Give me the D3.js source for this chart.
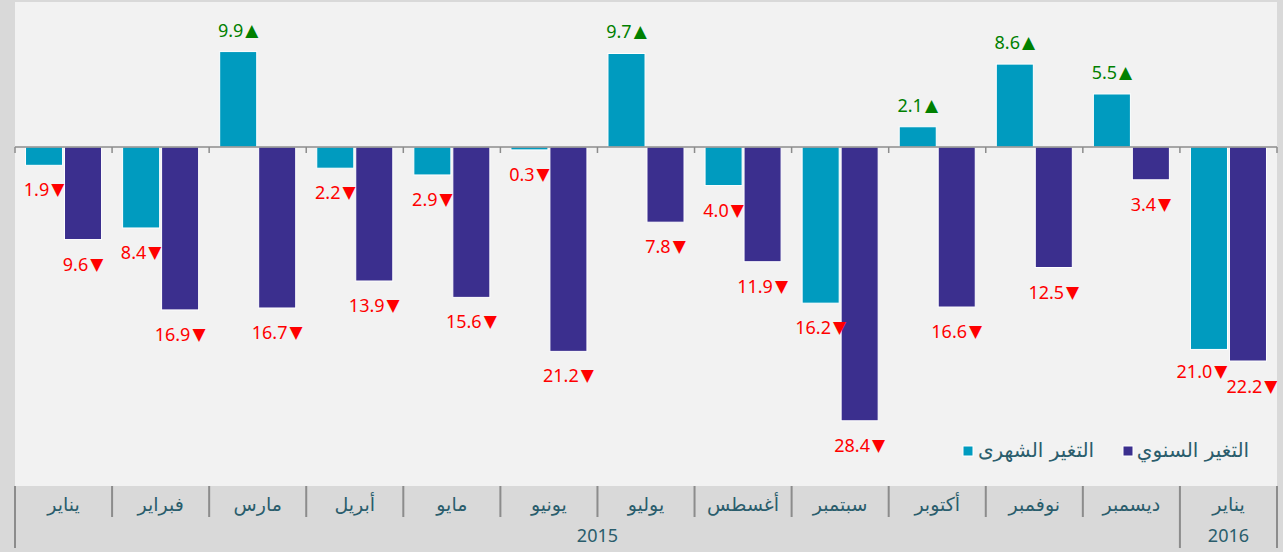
<!DOCTYPE html>
<html>
<head>
<meta charset="utf-8">
<script src="https://cdn.jsdelivr.net/npm/d3@7/dist/d3.min.js"></script>
<style>
  html, body { margin: 0; padding: 0; background: #d9d9d9; }
  svg { display: block; }
</style>
</head>
<body>
<div id="chart"></div>
<script>
// ---- Data ----
const categories = ["يناير","فبراير","مارس","أبريل","مايو","يونيو","يوليو","أغسطس","سبتمبر","أكتوبر","نوفمبر","ديسمبر","يناير"];
const monthlyChange = [-1.9, -8.4, 9.9, -2.2, -2.9, -0.3, 9.7, -4.0, -16.2, 2.1, 8.6, 5.5, -21.0];
const annualChange  = [-9.6, -16.9, -16.7, -13.9, -15.6, -21.2, -7.8, -11.9, -28.4, -16.6, -12.5, -3.4, -22.2];
const yearLabels = ["2015", "2016"];
const yearSpans  = [12, 1];
const seriesNames = ["التغير الشهرى", "التغير السنوي"];
const seriesColors = ["#009bbf", "#3b2f8e"];

// ---- Layout ----
const W = 1283, H = 552;
const panel = { left: 15, right: 1277, top: 2, bottom: 486 };
const axisBottom = 548;

const svg = d3.select("#chart").append("svg").attr("width", W).attr("height", H);
svg.append("rect").attr("width", W).attr("height", H).attr("fill", "#d9d9d9");
svg.append("rect").attr("x", panel.left).attr("y", panel.top)
  .attr("width", panel.right - panel.left).attr("height", panel.bottom - panel.top)
  .attr("fill", "#f2f2f2");

const idx = d3.range(categories.length);
const x = d3.scaleBand().domain(idx).range([panel.left, panel.right]).paddingInner(0).paddingOuter(0);
const xi = d3.scaleBand().domain([0, 1]).range([0, x.bandwidth()]).paddingInner(0.05).paddingOuter(0.27);
const pxPerUnit = 9.64, zeroY = 147;
const y = d3.scaleLinear().domain([-30, 10]).range([zeroY + 30 * pxPerUnit, zeroY - 10 * pxPerUnit]);

const series = [monthlyChange, annualChange];
const numFont = "'Noto Sans', 'DejaVu Sans', sans-serif";
const arFont = "'DejaVu Sans', sans-serif";

// bars
series.forEach((vals, s) => {
  svg.append("g").selectAll("rect").data(vals).join("rect")
    .attr("x", (d, i) => x(i) + xi(s))
    .attr("y", d => y(Math.max(0, d)))
    .attr("width", xi.bandwidth())
    .attr("height", d => Math.abs(y(d) - y(0)))
    .attr("fill", seriesColors[s])
    .attr("stroke", "#ffffff").attr("stroke-width", 1);
});

// zero axis line with ticks
svg.append("line").attr("x1", panel.left).attr("x2", panel.right)
  .attr("y1", y(0)).attr("y2", y(0)).attr("stroke", "#8c8c8c").attr("stroke-width", 1.5);
const bounds = d3.range(categories.length + 1).map(i => i < categories.length ? x(i) : panel.right);
svg.append("g").selectAll("line").data(bounds).join("line")
  .attr("x1", d => d).attr("x2", d => d)
  .attr("y1", y(0)).attr("y2", y(0) + 6)
  .attr("stroke", "#8c8c8c").attr("stroke-width", 1.5);

// value labels (last category's labels nudged apart to limit overlap)
series.forEach((vals, s) => {
  const g = svg.append("g");
  vals.forEach((v, i) => {
    let cx = x(i) + xi(s) + xi.bandwidth() / 2;
    let cy = v < 0 ? y(v) + 24 : y(v) - 22;
    if (i === categories.length - 1) { cx += s === 0 ? -7 : 4; cy += s === 0 ? -2 : 1; }
    const t = g.append("text").attr("x", cx).attr("y", cy)
      .attr("text-anchor", "middle").attr("dominant-baseline", "central")
      .attr("font-family", numFont).attr("font-size", 18)
      .attr("fill", v < 0 ? "#ff0000" : "#008000");
    t.append("tspan").text(Math.abs(v).toFixed(1));
    t.append("tspan").attr("dx", 2).attr("font-family", "'DejaVu Sans', sans-serif").attr("font-size", 17)
      .text(v < 0 ? "▼" : "▲");
  });
});

// legend
const legend = [
  { sq: 963, tx: 1036 },
  { sq: 1123, tx: 1193 }
];
legend.forEach((l, s) => {
  svg.append("rect").attr("x", l.sq).attr("y", 446).attr("width", 10).attr("height", 10)
    .attr("fill", seriesColors[s]).attr("stroke", "#fff").attr("stroke-width", 1);
  svg.append("text").attr("x", l.tx).attr("y", 450)
    .attr("text-anchor", "middle").attr("dominant-baseline", "central")
    .attr("font-family", arFont).attr("font-size", 20).attr("fill", "#2a5d6c")
    .text(seriesNames[s]);
});

// category axis
const axisG = svg.append("g");
axisG.selectAll("text.m").data(categories).join("text").attr("class", "m")
  .attr("x", (d, i) => x(i) + x.bandwidth() / 2).attr("y", 504)
  .attr("text-anchor", "middle").attr("dominant-baseline", "central")
  .attr("font-family", arFont).attr("font-size", 19).attr("fill", "#2a5d6c")
  .text(d => d);

// year group boundaries
let acc = 0;
const yearStarts = yearSpans.map(n => { const s = acc; acc += n; return s; });
const majorIdx = new Set(yearStarts.concat([categories.length]));
axisG.selectAll("line").data(d3.range(categories.length + 1)).join("line")
  .attr("x1", i => bounds[i]).attr("x2", i => bounds[i])
  .attr("y1", panel.bottom).attr("y2", i => majorIdx.has(i) ? axisBottom : 517)
  .attr("stroke", "#8c8c8c").attr("stroke-width", 2);

axisG.selectAll("text.y").data(yearLabels).join("text").attr("class", "y")
  .attr("x", (d, k) => (bounds[yearStarts[k]] + bounds[yearStarts[k] + yearSpans[k]]) / 2)
  .attr("y", 535)
  .attr("text-anchor", "middle").attr("dominant-baseline", "central")
  .attr("font-family", numFont).attr("font-size", 18).attr("fill", "#2a5d6c")
  .text(d => d);
</script>
</body>
</html>
